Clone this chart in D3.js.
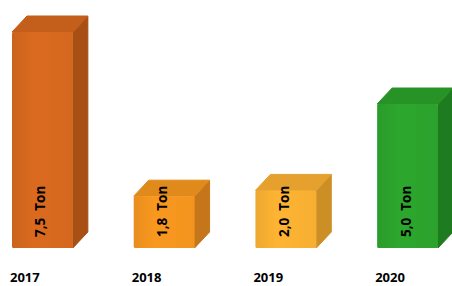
<!DOCTYPE html>
<html>
<head>
<meta charset="utf-8">
<script src="https://cdn.jsdelivr.net/npm/d3@7"></script>
<style>
  body { margin: 0; background: #fff; }
  svg { display: block; }
</style>
</head>
<body>
<div id="chart"></div>
<script>
// Chart data
const years = ["2017", "2018", "2019", "2020"];
const tons = [7.5, 1.8, 2.0, 5.0];
const valueLabels = ["7,5  Ton", "1,8  Ton", "2,0  Ton", "5,0  Ton"];

// Colours per bar: front, top, side
const frontColors = ["#D4671E", "#F2941E", "#F7AF32", "#2CA22C"];
const topColors = ["#C45E1B", "#E08A1C", "#E6A02D", "#279327"];
const sideColors = ["#A84F15", "#C6761A", "#CB8F26", "#1F7B1F"];

const width = 452,
    height = 286;

// 3d depth of the boxes
const depthX = 15,
    depthY = 16;

const svg = d3.select("#chart")
    .append("svg")
    .attr("width", width)
    .attr("height", height);

const x = d3.scaleBand()
    .domain(years)
    .range([12, 438])
    .paddingInner(0.5)
    .paddingOuter(0);

const y = d3.scaleLinear()
    .domain([0, 7.5])
    .range([248, 32]);

const data = years.map((yr, i) => ({
    year: yr,
    value: tons[i],
    label: valueLabels[i],
    front: frontColors[i],
    top: topColors[i],
    side: sideColors[i]
}));

// soft shading gradient for the front faces
const defs = svg.append("defs");
data.forEach((d, i) => {
    const grad = defs.append("linearGradient")
        .attr("id", "front" + i)
        .attr("x1", 0).attr("x2", 1)
        .attr("y1", 0).attr("y2", 0);
    grad.append("stop").attr("offset", "0%").attr("stop-color", d3.color(d.front).darker(0.12));
    grad.append("stop").attr("offset", "35%").attr("stop-color", d3.color(d.front).brighter(0.08));
    grad.append("stop").attr("offset", "100%").attr("stop-color", d.front);
});

const bars = svg.selectAll("g.bar")
    .data(data)
    .join("g")
    .attr("class", "bar");

// side face
bars.append("path")
    .attr("fill", d => d.side)
    .attr("stroke", d => d.side)
    .attr("stroke-width", 1)
    .attr("stroke-linejoin", "round")
    .attr("d", d => {
        const x1 = x(d.year) + x.bandwidth();
        const yt = y(d.value), yb = y(0);
        return `M${x1},${yt} L${x1 + depthX},${yt - depthY} L${x1 + depthX},${yb - depthY} L${x1},${yb} Z`;
    });

// top face
bars.append("path")
    .attr("fill", d => d.top)
    .attr("stroke", d => d.top)
    .attr("stroke-width", 1)
    .attr("stroke-linejoin", "round")
    .attr("d", d => {
        const x0 = x(d.year), x1 = x0 + x.bandwidth();
        const yt = y(d.value);
        return `M${x0},${yt} L${x0 + depthX},${yt - depthY} L${x1 + depthX},${yt - depthY} L${x1},${yt} Z`;
    });

// front face
bars.append("rect")
    .attr("x", d => x(d.year))
    .attr("y", d => y(d.value))
    .attr("width", x.bandwidth())
    .attr("height", d => y(0) - y(d.value))
    .attr("rx", 1.5)
    .attr("fill", (d, i) => `url(#front${i})`);

// value labels, rotated, reading bottom to top
bars.append("text")
    .attr("transform", d => `translate(${x(d.year) + x.bandwidth() / 2 + 3}, 237) rotate(-90)`)
    .attr("text-anchor", "start")
    .style("white-space", "pre")
    .attr("font-family", "'Open Sans', sans-serif")
    .attr("font-weight", "bold")
    .attr("font-size", "13.5px")
    .attr("fill", "#000")
    .text(d => d.label);

// year labels
svg.selectAll("text.year")
    .data(years)
    .join("text")
    .attr("class", "year")
    .attr("x", d => x(d) - 2)
    .attr("y", 282)
    .attr("font-family", "'Open Sans', sans-serif")
    .attr("font-weight", "bold")
    .attr("font-size", "13px")
    .attr("fill", "#000")
    .text(d => d);
</script>
</body>
</html>
